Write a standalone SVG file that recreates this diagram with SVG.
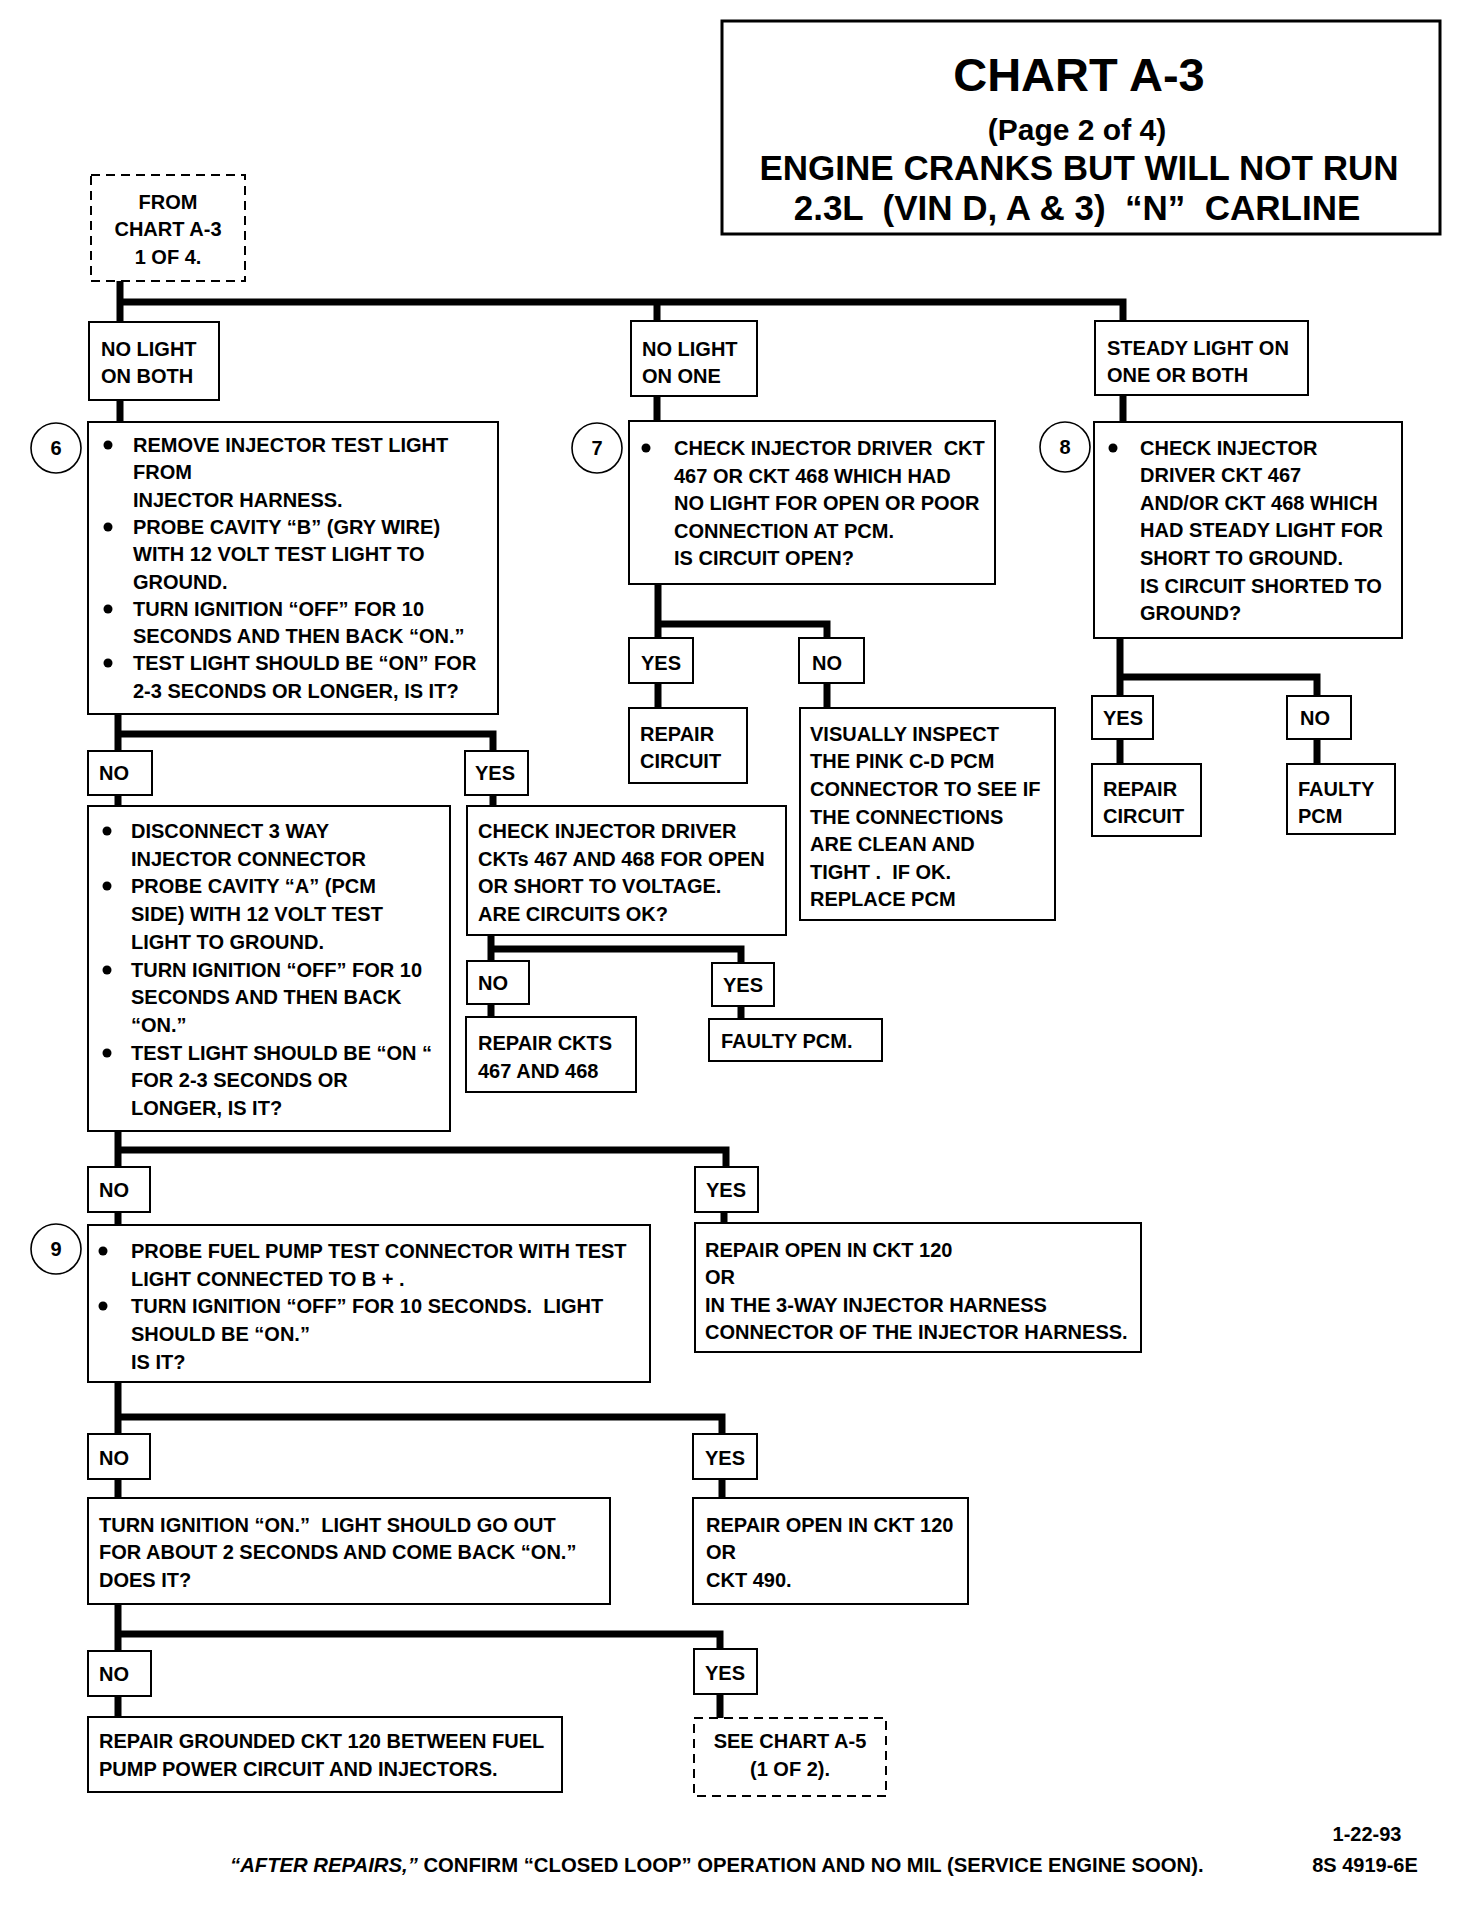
<svg xmlns="http://www.w3.org/2000/svg" width="1472" height="1924" viewBox="0 0 1472 1924">
<style>
.box{fill:#fff;stroke:#000;stroke-width:2}
.dash{fill:#fff;stroke:#000;stroke-width:2;stroke-dasharray:9 6}
.conn{fill:none;stroke:#000;stroke-width:7;stroke-linejoin:miter;stroke-linecap:butt}
.num{fill:#fff;stroke:#000;stroke-width:1.6}
text{font-family:"Liberation Sans",Arial,sans-serif;font-weight:bold;font-size:20px;fill:#000;white-space:pre}
.c{text-anchor:middle}
.t1{font-size:47px}
.t2{font-size:30px}
.t3{font-size:35px}
.ft{font-size:20.3px}
</style>
<rect width="1472" height="1924" fill="#fff"/>

<g id="connectors">
<path class="conn" d="M120,281 V322 M120,302 H1123 V321 M657,302 V321"/>
<path class="conn" d="M120,400 V422 M657,396 V421 M1123,395 V422"/>
<path class="conn" d="M118,714 V751 M118,734 H493 V751 M118,795 V806 M493,795 V806"/>
<path class="conn" d="M491,935 V961 M491,949 H741 V963 M491,1004 V1017 M741,1006 V1019"/>
<path class="conn" d="M658,584 V638 M658,624 H827 V638 M658,683 V708 M827,683 V708"/>
<path class="conn" d="M1120,638 V696 M1120,677 H1317 V696 M1120,739 V764 M1317,739 V764"/>
<path class="conn" d="M118,1131 V1167 M118,1150 H726 V1167 M118,1212 V1225 M724,1212 V1223"/>
<path class="conn" d="M118,1382 V1434 M118,1417 H722 V1434 M118,1479 V1498 M722,1479 V1498"/>
<path class="conn" d="M118,1604 V1651 M118,1634 H720 V1649 M118,1696 V1717 M720,1694 V1718"/>
</g>

<g id="title">
<rect x="722" y="21" width="718" height="213" fill="#fff" stroke="#000" stroke-width="3"/>
<text class="c t1" x="1079" y="91">CHART A-3</text>
<text class="c t2" x="1077" y="140">(Page 2 of 4)</text>
<text class="c t3" x="1079" y="180">ENGINE CRANKS BUT WILL NOT RUN</text>
<text class="c t3" x="1077" y="220">2.3L  (VIN D, A &amp; 3)  “N”  CARLINE</text>
</g>

<g id="from">
<rect class="dash" x="91" y="175" width="154" height="106"/>
<text class="c" x="168" y="209">FROM</text>
<text class="c" x="168" y="236">CHART A-3</text>
<text class="c" x="168" y="264">1 OF 4.</text>
</g>

<g id="nolight-both">
<rect class="box" x="89" y="322" width="130" height="78"/>
<text x="101" y="356">NO LIGHT</text>
<text x="101" y="383">ON BOTH</text>
</g>
<g id="nolight-one">
<rect class="box" x="631" y="321" width="126" height="75"/>
<text x="642" y="356">NO LIGHT</text>
<text x="642" y="383">ON ONE</text>
</g>
<g id="steady">
<rect class="box" x="1095" y="321" width="213" height="74"/>
<text x="1107" y="355">STEADY LIGHT ON</text>
<text x="1107" y="382">ONE OR BOTH</text>
</g>

<g id="step6">
<circle class="num" cx="56" cy="448" r="25"/>
<text class="c" x="56" y="455">6</text>
<rect class="box" x="88" y="422" width="410" height="292"/>
<circle cx="108" cy="445" r="4.5"/>
<circle cx="108" cy="527" r="4.5"/>
<circle cx="108" cy="609" r="4.5"/>
<circle cx="108" cy="663" r="4.5"/>
<text x="133" y="452">REMOVE INJECTOR TEST LIGHT</text>
<text x="133" y="479">FROM</text>
<text x="133" y="507">INJECTOR HARNESS.</text>
<text x="133" y="534">PROBE CAVITY “B” (GRY WIRE)</text>
<text x="133" y="561">WITH 12 VOLT TEST LIGHT TO</text>
<text x="133" y="589">GROUND.</text>
<text x="133" y="616">TURN IGNITION “OFF” FOR 10</text>
<text x="133" y="643">SECONDS AND THEN BACK “ON.”</text>
<text x="133" y="670">TEST LIGHT SHOULD BE “ON” FOR</text>
<text x="133" y="698">2-3 SECONDS OR LONGER, IS IT?</text>
</g>

<g id="no6">
<rect class="box" x="88" y="751" width="64" height="44"/>
<text x="99" y="780">NO</text>
</g>
<g id="yes6">
<rect class="box" x="465" y="751" width="63" height="44"/>
<text x="475" y="780">YES</text>
</g>

<g id="disconnect">
<rect class="box" x="88" y="806" width="362" height="325"/>
<circle cx="107" cy="831" r="4.5"/>
<circle cx="107" cy="886" r="4.5"/>
<circle cx="107" cy="970" r="4.5"/>
<circle cx="107" cy="1053" r="4.5"/>
<text x="131" y="838">DISCONNECT 3 WAY</text>
<text x="131" y="866">INJECTOR CONNECTOR</text>
<text x="131" y="893">PROBE CAVITY “A” (PCM</text>
<text x="131" y="921">SIDE) WITH 12 VOLT TEST</text>
<text x="131" y="949">LIGHT TO GROUND.</text>
<text x="131" y="977">TURN IGNITION “OFF” FOR 10</text>
<text x="131" y="1004">SECONDS AND THEN BACK</text>
<text x="131" y="1032">“ON.”</text>
<text x="131" y="1060">TEST LIGHT SHOULD BE “ON “</text>
<text x="131" y="1087">FOR 2-3 SECONDS OR</text>
<text x="131" y="1115">LONGER, IS IT?</text>
</g>

<g id="check-ckts">
<rect class="box" x="467" y="806" width="319" height="129"/>
<text x="478" y="838">CHECK INJECTOR DRIVER</text>
<text x="478" y="866">CKTs 467 AND 468 FOR OPEN</text>
<text x="478" y="893">OR SHORT TO VOLTAGE.</text>
<text x="478" y="921">ARE CIRCUITS OK?</text>
</g>
<g id="no-ckts">
<rect class="box" x="467" y="961" width="62" height="43"/>
<text x="478" y="990">NO</text>
</g>
<g id="yes-ckts">
<rect class="box" x="712" y="963" width="62" height="43"/>
<text x="723" y="992">YES</text>
</g>
<g id="repair-ckts">
<rect class="box" x="466" y="1017" width="170" height="75"/>
<text x="478" y="1050">REPAIR CKTS</text>
<text x="478" y="1078">467 AND 468</text>
</g>
<g id="faulty-pcm1">
<rect class="box" x="709" y="1019" width="173" height="42"/>
<text x="721" y="1048">FAULTY PCM.</text>
</g>

<g id="step7">
<circle class="num" cx="597" cy="448" r="25"/>
<text class="c" x="597" y="455">7</text>
<rect class="box" x="629" y="421" width="366" height="163"/>
<circle cx="646" cy="448" r="4.5"/>
<text x="674" y="455">CHECK INJECTOR DRIVER  CKT</text>
<text x="674" y="483">467 OR CKT 468 WHICH HAD</text>
<text x="674" y="510">NO LIGHT FOR OPEN OR POOR</text>
<text x="674" y="538">CONNECTION AT PCM.</text>
<text x="674" y="565">IS CIRCUIT OPEN?</text>
</g>
<g id="yes7">
<rect class="box" x="629" y="638" width="64" height="45"/>
<text x="641" y="670">YES</text>
</g>
<g id="no7">
<rect class="box" x="799" y="638" width="65" height="45"/>
<text x="812" y="670">NO</text>
</g>
<g id="repair7">
<rect class="box" x="629" y="708" width="118" height="75"/>
<text x="640" y="741">REPAIR</text>
<text x="640" y="768">CIRCUIT</text>
</g>
<g id="inspect7">
<rect class="box" x="800" y="708" width="255" height="212"/>
<text x="810" y="741">VISUALLY INSPECT</text>
<text x="810" y="768">THE PINK C-D PCM</text>
<text x="810" y="796">CONNECTOR TO SEE IF</text>
<text x="810" y="824">THE CONNECTIONS</text>
<text x="810" y="851">ARE CLEAN AND</text>
<text x="810" y="879">TIGHT .  IF OK.</text>
<text x="810" y="906">REPLACE PCM</text>
</g>

<g id="step8">
<circle class="num" cx="1065" cy="447" r="25"/>
<text class="c" x="1065" y="454">8</text>
<rect class="box" x="1094" y="422" width="308" height="216"/>
<circle cx="1113" cy="448" r="4.5"/>
<text x="1140" y="455">CHECK INJECTOR</text>
<text x="1140" y="482">DRIVER CKT 467</text>
<text x="1140" y="510">AND/OR CKT 468 WHICH</text>
<text x="1140" y="537">HAD STEADY LIGHT FOR</text>
<text x="1140" y="565">SHORT TO GROUND.</text>
<text x="1140" y="593">IS CIRCUIT SHORTED TO</text>
<text x="1140" y="620">GROUND?</text>
</g>
<g id="yes8">
<rect class="box" x="1092" y="696" width="61" height="43"/>
<text x="1103" y="725">YES</text>
</g>
<g id="no8">
<rect class="box" x="1287" y="696" width="64" height="43"/>
<text x="1300" y="725">NO</text>
</g>
<g id="repair8">
<rect class="box" x="1092" y="764" width="109" height="72"/>
<text x="1103" y="796">REPAIR</text>
<text x="1103" y="823">CIRCUIT</text>
</g>
<g id="faulty8">
<rect class="box" x="1287" y="764" width="108" height="70"/>
<text x="1298" y="796">FAULTY</text>
<text x="1298" y="823">PCM</text>
</g>

<g id="no-disc">
<rect class="box" x="88" y="1167" width="62" height="45"/>
<text x="99" y="1197">NO</text>
</g>
<g id="yes-disc">
<rect class="box" x="695" y="1167" width="63" height="45"/>
<text x="706" y="1197">YES</text>
</g>

<g id="step9">
<circle class="num" cx="56" cy="1249" r="25"/>
<text class="c" x="56" y="1256">9</text>
<rect class="box" x="88" y="1225" width="562" height="157"/>
<circle cx="103" cy="1251" r="4.5"/>
<circle cx="103" cy="1306" r="4.5"/>
<text x="131" y="1258">PROBE FUEL PUMP TEST CONNECTOR WITH TEST</text>
<text x="131" y="1286">LIGHT CONNECTED TO B + .</text>
<text x="131" y="1313">TURN IGNITION “OFF” FOR 10 SECONDS.  LIGHT</text>
<text x="131" y="1341">SHOULD BE “ON.”</text>
<text x="131" y="1369">IS IT?</text>
</g>
<g id="repair-open1">
<rect class="box" x="695" y="1223" width="446" height="129"/>
<text x="705" y="1257">REPAIR OPEN IN CKT 120</text>
<text x="705" y="1284">OR</text>
<text x="705" y="1312">IN THE 3-WAY INJECTOR HARNESS</text>
<text x="705" y="1339">CONNECTOR OF THE INJECTOR HARNESS.</text>
</g>

<g id="no9">
<rect class="box" x="88" y="1434" width="62" height="45"/>
<text x="99" y="1465">NO</text>
</g>
<g id="yes9">
<rect class="box" x="693" y="1434" width="64" height="45"/>
<text x="705" y="1465">YES</text>
</g>

<g id="turn-on">
<rect class="box" x="88" y="1498" width="522" height="106"/>
<text x="99" y="1532">TURN IGNITION “ON.”  LIGHT SHOULD GO OUT</text>
<text x="99" y="1559">FOR ABOUT 2 SECONDS AND COME BACK “ON.”</text>
<text x="99" y="1587">DOES IT?</text>
</g>
<g id="repair-open2">
<rect class="box" x="693" y="1498" width="275" height="106"/>
<text x="706" y="1532">REPAIR OPEN IN CKT 120</text>
<text x="706" y="1559">OR</text>
<text x="706" y="1587">CKT 490.</text>
</g>

<g id="no10">
<rect class="box" x="88" y="1651" width="63" height="45"/>
<text x="99" y="1681">NO</text>
</g>
<g id="yes10">
<rect class="box" x="694" y="1649" width="63" height="45"/>
<text x="705" y="1680">YES</text>
</g>
<g id="repair-grounded">
<rect class="box" x="88" y="1717" width="474" height="75"/>
<text x="99" y="1748">REPAIR GROUNDED CKT 120 BETWEEN FUEL</text>
<text x="99" y="1776">PUMP POWER CIRCUIT AND INJECTORS.</text>
</g>
<g id="see-a5">
<rect class="dash" x="694" y="1718" width="192" height="78"/>
<text class="c" x="790" y="1748">SEE CHART A-5</text>
<text class="c" x="790" y="1776">(1 OF 2).</text>
</g>

<g id="footer">
<text class="c" x="1367" y="1841">1-22-93</text>
<text class="c" x="1365" y="1872">8S 4919-6E</text>
<text class="ft" x="230" y="1872"><tspan font-style="italic">“AFTER REPAIRS,”</tspan> CONFIRM “CLOSED LOOP” OPERATION AND NO MIL (SERVICE ENGINE SOON).</text>
</g>
</svg>
